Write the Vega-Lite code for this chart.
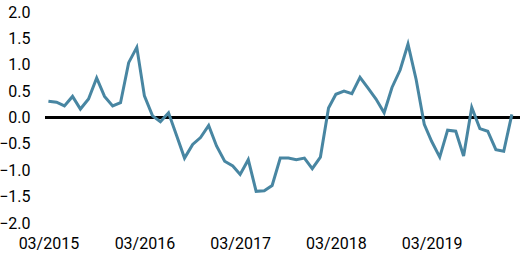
{
  "$schema": "https://vega.github.io/schema/vega-lite/v6.json",
  "autosize": "none",
  "width": 475,
  "height": 211,
  "padding": {"left": 45, "top": 12, "right": 0, "bottom": 39},
  "background": "white",
  "config": {"view": {"stroke": null}, "font": "Roboto"},
  "data": {"values": [
    {"date": "2015-03-01", "value": 0.31},
    {"date": "2015-04-01", "value": 0.29},
    {"date": "2015-05-01", "value": 0.22},
    {"date": "2015-06-01", "value": 0.40},
    {"date": "2015-07-01", "value": 0.16},
    {"date": "2015-08-01", "value": 0.35},
    {"date": "2015-09-01", "value": 0.75},
    {"date": "2015-10-01", "value": 0.40},
    {"date": "2015-11-01", "value": 0.22},
    {"date": "2015-12-01", "value": 0.28},
    {"date": "2016-01-01", "value": 1.04},
    {"date": "2016-02-01", "value": 1.33},
    {"date": "2016-03-01", "value": 0.41},
    {"date": "2016-04-01", "value": 0.03},
    {"date": "2016-05-01", "value": -0.08},
    {"date": "2016-06-01", "value": 0.09},
    {"date": "2016-07-01", "value": -0.33},
    {"date": "2016-08-01", "value": -0.77},
    {"date": "2016-09-01", "value": -0.51},
    {"date": "2016-10-01", "value": -0.38},
    {"date": "2016-11-01", "value": -0.15},
    {"date": "2016-12-01", "value": -0.54},
    {"date": "2017-01-01", "value": -0.83},
    {"date": "2017-02-01", "value": -0.92},
    {"date": "2017-03-01", "value": -1.08},
    {"date": "2017-04-01", "value": -0.80},
    {"date": "2017-05-01", "value": -1.40},
    {"date": "2017-06-01", "value": -1.39},
    {"date": "2017-07-01", "value": -1.29},
    {"date": "2017-08-01", "value": -0.77},
    {"date": "2017-09-01", "value": -0.77},
    {"date": "2017-10-01", "value": -0.80},
    {"date": "2017-11-01", "value": -0.77},
    {"date": "2017-12-01", "value": -0.97},
    {"date": "2018-01-01", "value": -0.75},
    {"date": "2018-02-01", "value": 0.18},
    {"date": "2018-03-01", "value": 0.44},
    {"date": "2018-04-01", "value": 0.50},
    {"date": "2018-05-01", "value": 0.45},
    {"date": "2018-06-01", "value": 0.76},
    {"date": "2018-07-01", "value": 0.56},
    {"date": "2018-08-01", "value": 0.35},
    {"date": "2018-09-01", "value": 0.09},
    {"date": "2018-10-01", "value": 0.57},
    {"date": "2018-11-01", "value": 0.90},
    {"date": "2018-12-01", "value": 1.39},
    {"date": "2019-01-01", "value": 0.72},
    {"date": "2019-02-01", "value": -0.13},
    {"date": "2019-03-01", "value": -0.45},
    {"date": "2019-04-01", "value": -0.75},
    {"date": "2019-05-01", "value": -0.24},
    {"date": "2019-06-01", "value": -0.26},
    {"date": "2019-07-01", "value": -0.73},
    {"date": "2019-08-01", "value": 0.19},
    {"date": "2019-09-01", "value": -0.21},
    {"date": "2019-10-01", "value": -0.26},
    {"date": "2019-11-01", "value": -0.61},
    {"date": "2019-12-01", "value": -0.64},
    {"date": "2020-01-01", "value": 0.06}
  ]},
  "layer": [
    {
      "mark": {"type": "rule", "color": "black", "strokeWidth": 2},
      "encoding": {
        "y": {
          "datum": 0, "type": "quantitative",
          "scale": {"domain": [-2, 2], "nice": false, "zero": false},
          "axis": {
            "title": null, "domain": false, "ticks": false, "grid": false,
            "values": [-2, -1.5, -1, -0.5, 0, 0.5, 1, 1.5, 2],
            "format": ".1f", "labelFontSize": 16, "labelColor": "black",
            "labelPadding": 15, "labelFont": "Roboto", "labelFlush": false,
            "labelOverlap": false
          }
        }
      }
    },
    {
      "mark": {"type": "line", "color": "#4886a2", "strokeWidth": 3},
      "encoding": {
        "x": {
          "field": "date", "type": "temporal",
          "scale": {"domain": [{"year": 2015, "month": 2, "date": 16}, {"year": 2020, "month": 2, "date": 1}]},
          "axis": {
            "title": null, "domain": false, "ticks": false, "grid": false,
            "values": [
              {"year": 2015, "month": 3, "date": 1},
              {"year": 2016, "month": 3, "date": 1},
              {"year": 2017, "month": 3, "date": 1},
              {"year": 2018, "month": 3, "date": 1},
              {"year": 2019, "month": 3, "date": 1}
            ],
            "format": "%m/%Y", "labelFontSize": 16, "labelColor": "black",
            "labelPadding": 12, "labelFont": "Roboto", "labelFlush": false,
            "labelOverlap": false
          }
        },
        "y": {
          "field": "value", "type": "quantitative",
          "scale": {"domain": [-2, 2], "nice": false, "zero": false},
          "axis": {
            "title": null, "domain": false, "ticks": false, "grid": false,
            "values": [-2, -1.5, -1, -0.5, 0, 0.5, 1, 1.5, 2],
            "format": ".1f", "labelFontSize": 16, "labelColor": "black",
            "labelPadding": 15, "labelFont": "Roboto", "labelFlush": false,
            "labelOverlap": false
          }
        }
      }
    }
  ]
}
